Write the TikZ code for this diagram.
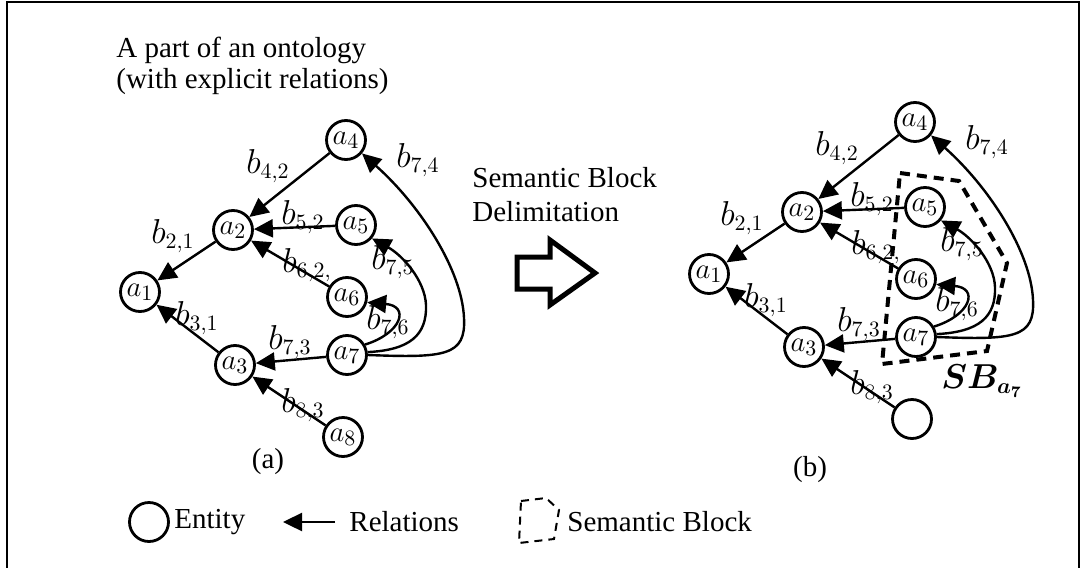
\documentclass[tikz,border=0pt]{standalone}
\usepackage{fontspec}
\setmainfont{Liberation Serif}
\usepackage{amsmath}
\usetikzlibrary{arrows.meta}

\tikzset{
  ent/.style={circle, draw, line width=1.4pt, minimum size=19.5pt, inner sep=0pt, font=\fontsize{15.5}{17}\selectfont},
  rel/.style={line width=1.2pt, -{Triangle[length=9.5pt,width=9pt]}},
  lab/.style={inner sep=0pt, font=\fontsize{16}{18}\selectfont},
  txt/.style={inner sep=0pt, font=\fontsize{14.5}{16}\selectfont},
  sbline/.style={line width=2pt, dash pattern=on 5pt off 3.5pt, line join=miter},
  legsb/.style={line width=1pt, dash pattern=on 4pt off 3pt},
  hollow/.style={line width=2.5pt, line join=miter},
}

\newcommand\drawpanel[2]{%
  \node[ent] (#1a1) at (140,292) {$a_1$};
  \node[ent] (#1a2) at (233,230) {$a_2$};
  \node[ent] (#1a3) at (235,365) {$a_3$};
  \node[ent] (#1a4) at (346,140) {$a_4$};
  \node[ent] (#1a5) at (356,225) {$a_5$};
  \node[ent] (#1a6) at (347,297) {$a_6$};
  \node[ent] (#1a7) at (347,355) {$a_7$};
  \node[ent] (#1a8) at (343,437) {#2};
  \draw[rel] (#1a4) -- (#1a2);
  \draw[rel] (#1a5) -- (#1a2);
  \draw[rel] (#1a6) -- (#1a2);
  \draw[rel] (#1a2) -- (#1a1);
  \draw[rel] (#1a3) -- (#1a1);
  \draw[rel] (#1a7) -- (#1a3);
  \draw[rel] (#1a8) -- (#1a3);
  \draw[rel] (#1a7.30) .. controls (402,333) and (410,306) .. (#1a6.-15);
  \draw[rel] (#1a7.8) .. controls (410,350) and (427,335) .. (426,305) .. controls (425,280) and (402,255) .. (#1a5.-40);
  \draw[rel] (#1a7.0) .. controls (445,358) and (466,356) .. (464,318) .. controls (462,270) and (420,205) .. (#1a4.-40);
  \node[lab] (#1b42) at (268,166) {$b_{4,2}$};
  \node[lab] (#1b52) at (303,217) {$b_{5,2}$};
  \node[lab] (#1b21) at (173,236) {$b_{2,1}$};
  \node[lab] (#1b62) at (307,265) {$b_{6,2,}$};
  \node[lab] (#1b31) at (197,318) {$b_{3,1}$};
  \node[lab] (#1b73) at (290,342) {$b_{7,3}$};
  \node[lab] (#1b83) at (303,405) {$b_{8,3}$};
  \node[lab] (#1b76) at (388,322) {$b_{7,6}$};
  \node[lab] (#1b75) at (393,262) {$b_{7,5}$};
  \node[lab] (#1b74) at (418,160) {$b_{7,4}$};
}

\begin{document}
\begin{tikzpicture}[x=0.5pt,y=-0.5pt]
\useasboundingbox (0,0) rectangle (1085,567);
% frame
\draw[line width=0.8pt] (7,620) -- (7,2) -- (1079,2) -- (1079,620);

% titles
\node[txt, anchor=west] (title1) at (116,50) {A part of an ontology};
\node[txt, anchor=west] (title2) at (116,82) {(with explicit relations)};
\node[txt, anchor=west] (sbd1) at (472,178) {Semantic Block};
\node[txt, anchor=west] (sbd2) at (472,212) {Delimitation};

% hollow arrow
\draw[hollow] (517,257) -- (550,257) -- (550,240) -- (595,273) -- (550,305) -- (550,289) -- (517,289) -- cycle;

% panel (a)
\drawpanel{a}{$a_8$}
\node[txt] (capa) at (268,462) {(a)};

% panel (b)
\begin{scope}[shift={(569,-18)}]
\drawpanel{b}{}
\end{scope}
\node[txt] (capb) at (810,470) {(b)};

% semantic block
\draw[sbline] (900,173) -- (959,181) -- (1007,263) -- (987,351) -- (882,364) -- cycle;
\node[inner sep=0pt, font=\fontsize{16}{18}\selectfont] (sblab) at (982,381) {$\boldsymbol{SB_{a_7}}$};

% legend
\node[ent] (lgent) at (149,522) {};
\node[txt, anchor=west] (lgenttxt) at (174,522) {Entity};
\coordinate (lgA) at (335,522);
\coordinate (lgB) at (283,522);
\draw[rel] (lgA) -- (lgB);
\node[txt, anchor=west] (lgreltxt) at (349,522) {Relations};
\draw[legsb] (521,501) -- (546,498) -- (559,510) -- (554,539) -- (519,543) -- cycle;
\node[txt, anchor=west] (lgsbtxt) at (567,522) {Semantic Block};
\end{tikzpicture}
\end{document}
